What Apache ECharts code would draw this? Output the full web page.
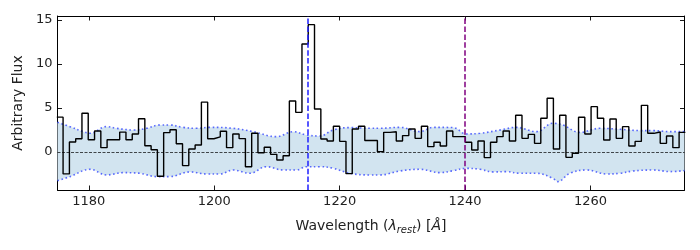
<!DOCTYPE html>
<html>
<head>
<meta charset="utf-8">
<script src="https://cdn.jsdelivr.net/npm/echarts@6/dist/echarts.min.js"></script>
<style>html,body{margin:0;padding:0;background:#fff}#c{width:700px;height:250px}</style>
</head>
<body>
<div id="c"></div>
<script>
// Bin left edges (rest wavelength, Angstrom); last entry is the right edge of the last bin
const binEdges = [1174.89,1175.89,1176.90,1177.90,1178.90,1179.90,1180.91,1181.91,1182.91,1183.91,
1184.92,1185.92,1186.92,1187.92,1188.93,1189.93,1190.93,1191.93,1192.94,1193.94,
1194.94,1195.94,1196.95,1197.95,1198.95,1199.95,1200.96,1201.96,1202.96,1203.96,
1204.97,1205.97,1206.97,1207.97,1208.98,1209.98,1210.98,1211.98,1212.99,1213.99,
1214.99,1215.99,1217.00,1218.00,1219.00,1220.00,1221.01,1222.01,1223.01,1224.01,
1225.02,1226.02,1227.02,1228.02,1229.03,1230.03,1231.03,1232.03,1233.04,1234.04,
1235.04,1236.04,1237.05,1238.05,1239.05,1240.05,1241.06,1242.06,1243.06,1244.06,
1245.07,1246.07,1247.07,1248.07,1249.08,1250.08,1251.08,1252.08,1253.09,1254.09,
1255.09,1256.09,1257.10,1258.10,1259.10,1260.10,1261.11,1262.11,1263.11,1264.11,
1265.12,1266.12,1267.12,1268.12,1269.13,1270.13,1271.13,1272.13,1273.14,1274.14,1275.14];

const flux = [3.96,-2.49,1.13,1.5,4.4,1.39,2.38,0.49,1.39,1.39,
2.26,1.39,2.04,3.77,0.71,0.26,-2.76,2.2,2.52,0.94,
-1.55,0.34,0.79,5.66,1.5,1.72,2.35,0.49,2.05,1.52,
-1.67,2.12,-0.08,0.53,-0.27,-0.91,-0.42,5.8,4.5,12.27,
14.47,4.89,1.48,1.25,2.92,1.21,-2.46,2.61,2.92,1.3,
1.3,0.04,2.23,2.3,1.25,1.86,2.61,1.55,2.92,0.61,
1.1,0.68,2.39,1.74,1.74,1.1,0.23,1.25,-0.64,1.1,
1.74,2.39,1.25,4.17,1.55,2.0,0.98,3.83,6.1,0.34,
4.17,-0.61,-0.15,3.94,2.05,5.15,3.83,1.36,3.75,1.55,
2.88,0.68,1.2,5.3,2.12,2.27,0.98,1.82,0.49,2.23];

const upperWave = [1175.0,1177.0,1179.1,1180.2,1182.8,1184.4,1187.1,1189.2,1191.3,1192.9,1195.0,1197.2,1199.3,1203.0,1206.2,1209.9,1212.6,1214.7,1216.8,1219.0,1221.6,1224.8,1226.4,1229.6,1232.8,1234.9,1238.1,1240.2,1242.4,1245.6,1248.2,1251.4,1254.0,1255.6,1258.3,1261.5,1264.7,1267.9,1270.0,1272.7,1275.0];
const upperErr = [3.37,2.88,2.31,2.12,2.88,2.69,2.50,2.69,3.07,3.07,2.80,2.69,2.80,2.69,2.31,1.74,2.31,1.93,1.82,2.50,2.77,2.69,2.69,2.80,2.31,2.80,2.77,2.05,2.12,2.50,2.80,2.31,3.26,3.07,2.23,2.69,2.58,2.43,2.43,2.31,2.31];

const lowerWave = [1175.0,1177.0,1180.2,1182.8,1185.5,1188.1,1190.8,1192.9,1196.1,1198.8,1200.9,1203.0,1205.7,1208.3,1211.0,1213.1,1214.7,1216.8,1219.0,1221.6,1224.8,1226.4,1229.6,1232.8,1236.0,1238.1,1240.2,1242.4,1244.5,1246.6,1248.7,1251.4,1254.0,1254.8,1256.7,1259.4,1262.6,1264.7,1266.8,1270.0,1272.7,1275.0];
const lowerErr = [-3.26,-2.80,-1.97,-2.61,-2.35,-2.42,-2.80,-2.80,-2.27,-2.50,-2.50,-2.05,-2.42,-1.67,-2.05,-2.05,-1.67,-1.67,-1.86,-2.42,-2.61,-2.61,-2.16,-1.97,-2.35,-2.12,-1.86,-1.97,-2.27,-2.23,-2.42,-2.42,-2.99,-3.37,-2.42,-2.05,-2.50,-2.42,-2.16,-2.05,-2.23,-2.12];

const xTicks = [1180,1200,1220,1240,1260];
const yTicks = [0,5,10,15];
const lyaLine = 1214.85;
const nvLine = 1240;

const stepData = binEdges.map((e, i) => [e, flux[Math.min(i, flux.length - 1)]]);
const upperData = upperWave.map((w, i) => [w, upperErr[i]]);
const lowerData = lowerWave.map((w, i) => [w, lowerErr[i]]);

const X0 = 1175, X1 = 1275, Y0 = -4.32, Y1 = 15.45;
const font = 'DejaVu Sans';
const tick = {show:true, inside:true, length:4.5, lineStyle:{color:'#000', width:0.9}};
const axLine = {show:true, onZero:false, lineStyle:{color:'#000', width:1}};
const fmt = v => String(v);

const chart = echarts.init(document.getElementById('c'), null, {renderer:'canvas'});
chart.setOption({
  animation:false,
  grid:{left:57.5, right:15.5, top:16, bottom:60},
  xAxis:[
    {type:'value', min:X0, max:X1, position:'bottom', axisLine:axLine,
     axisTick:Object.assign({customValues:xTicks}, tick),
     axisLabel:{customValues:xTicks, formatter:fmt, color:'#222', fontFamily:font, fontSize:13, margin:5},
     splitLine:{show:false},
     name:'{n|Wavelength (}{i|λ}{s|rest}{n|) [}{i|Å}{n|]}', nameLocation:'middle', nameGap:27,
     nameTextStyle:{rich:{n:{fontFamily:font, fontSize:14, color:'#222'},
       i:{fontFamily:font, fontSize:14, fontStyle:'italic', color:'#222'},
       s:{fontFamily:font, fontSize:10, fontStyle:'italic', color:'#222', padding:[8,0,0,0]}}}},
    {type:'value', min:X0, max:X1, position:'top', axisLine:axLine,
     axisTick:Object.assign({customValues:xTicks}, tick),
     axisLabel:{show:false}, splitLine:{show:false}}
  ],
  yAxis:[
    {type:'value', min:Y0, max:Y1, position:'left', axisLine:axLine,
     axisTick:Object.assign({customValues:yTicks}, tick),
     axisLabel:{customValues:yTicks, formatter:fmt, color:'#222', fontFamily:font, fontSize:13, margin:5},
     splitLine:{show:false},
     name:'Arbitrary Flux', nameLocation:'middle', nameGap:30,
     nameTextStyle:{fontFamily:font, fontSize:14, color:'#222'}},
    {type:'value', min:Y0, max:Y1, position:'right', axisLine:axLine,
     axisTick:Object.assign({customValues:yTicks}, tick),
     axisLabel:{show:false}, splitLine:{show:false}}
  ],
  series:[
    {type:'line', data:upperData, smooth:0.4, symbol:'none', z:1,
     lineStyle:{color:'rgba(40,60,255,0.75)', width:1.6, type:[1.6,2.6]},
     areaStyle:{color:'#d2e4f0', opacity:1, origin:0}},
    {type:'line', data:lowerData, smooth:0.4, symbol:'none', z:1,
     lineStyle:{color:'rgba(40,60,255,0.75)', width:1.6, type:[1.6,2.6]},
     areaStyle:{color:'#d2e4f0', opacity:1, origin:0}},
    {type:'line', data:stepData, step:'end', symbol:'none', z:3,
     lineStyle:{color:'#000', width:1.4},
     markLine:{silent:true, symbol:'none', label:{show:false}, animation:false,
       data:[
         {yAxis:0, lineStyle:{color:'#000', width:0.7, type:[3,1.5]}},
         {xAxis:lyaLine, lineStyle:{color:'#1f1fff', width:1.5, type:[5.5,2.4]}},
         {xAxis:nvLine, lineStyle:{color:'#800080', width:1.5, type:[5.5,2.4]}}
       ]}}
  ]
});
</script>
</body>
</html>
